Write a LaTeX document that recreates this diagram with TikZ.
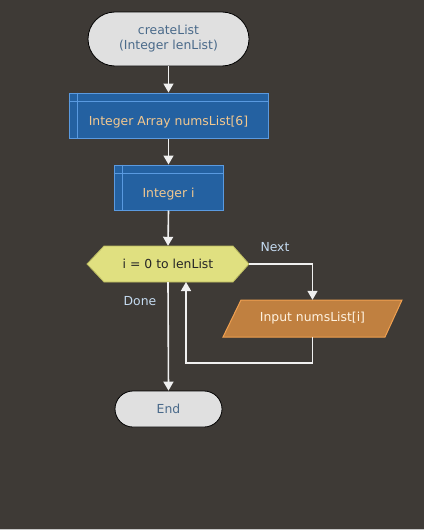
\documentclass[tikz,border=0pt]{standalone}
\usepackage{fontspec}
\setmainfont{DejaVu Sans}
\usetikzlibrary{arrows.meta,calc}
\definecolor{bgc}{HTML}{3E3A36}
\definecolor{edgec}{HTML}{C8C8C8}
\definecolor{termfill}{HTML}{E0E0E0}
\definecolor{termtext}{HTML}{4A6A8A}
\definecolor{declfill}{HTML}{2461A1}
\definecolor{declline}{HTML}{5A9AE0}
\definecolor{decltext}{HTML}{F2C890}
\definecolor{loopfill}{HTML}{E0E080}
\definecolor{loopline}{HTML}{B8B860}
\definecolor{inpfill}{HTML}{C08040}
\definecolor{inpline}{HTML}{F0A050}
\definecolor{inptext}{HTML}{FFF2E0}
\definecolor{connc}{HTML}{F0F0F0}
\definecolor{labc}{HTML}{C4DAF0}
\begin{document}
\begin{tikzpicture}[x=1pt,y=-1pt,
  every node/.style={font=\fontsize{12.4}{15}\selectfont},
  term/.style={draw=black, line width=0.8pt, fill=termfill, text=termtext, rounded corners=18pt, align=center, inner sep=0pt},
  declbox/.style={draw=declline, line width=1pt, fill=declfill, inner sep=0pt},
  declline/.style={draw=declline, line width=1pt},
  decltxt/.style={text=decltext, inner sep=0pt},
  plainnode/.style={inner sep=0pt},
  conn/.style={draw=connc, line width=1.6pt, -{Triangle[width=10pt,length=9pt]}},
  lab/.style={text=labc, inner sep=0pt}]
\useasboundingbox (0,0) rectangle (424,530);
\fill[bgc] (0,0) rectangle (424,530);
\fill[edgec] (0,529) rectangle (424,530);

% start terminal
\node[term, minimum width=161pt, minimum height=54pt, rounded corners=27pt] (start) at (168.5,39) {createList\\(Integer lenList)};

% array declaration
\node[declbox, minimum width=199pt, minimum height=45pt] (arr) at (168.5,115.5) {};
\draw[declline] ($(arr.north west)+(0,9)$) -- ($(arr.north east)+(0,9)$);
\draw[declline] ($(arr.north west)+(9,0)$) -- ($(arr.south west)+(9,0)$);
\node[decltxt] (arrtxt) at ($(arr.center)+(0,6.5)$) {Integer Array numsList[6]};

% integer declaration
\node[declbox, minimum width=109pt, minimum height=45pt] (inti) at (168.5,187.5) {};
\draw[declline] ($(inti.north west)+(0,9)$) -- ($(inti.north east)+(0,9)$);
\draw[declline] ($(inti.north west)+(9,0)$) -- ($(inti.south west)+(9,0)$);
\node[decltxt] (intitxt) at ($(inti.center)+(0,6.5)$) {Integer i};

% for loop hexagon
\filldraw[fill=loopfill, draw=loopline, line width=0.8pt] (87,264) -- (104,246) -- (233,246) -- (249,264) -- (233,282) -- (104,282) -- cycle;
\node[plainnode, minimum width=162pt, minimum height=36pt, text=black!85] (loop) at (168,264) {i = 0 to lenList};

% input parallelogram
\filldraw[fill=inpfill, draw=inpline, line width=1pt] (241,300) -- (402,300) -- (385,337) -- (223,337) -- cycle;
\node[plainnode, minimum width=179pt, minimum height=37pt, text=inptext] (inp) at (312.5,318.5) {Input numsList[i]};

% end terminal
\node[term, minimum width=107pt, minimum height=36pt] (end) at (168.5,409) {End};

% connectors
\coordinate (back) at (186,363);
\coordinate (backin) at (186,282);
\draw[conn] (start.south) -- (arr.north);
\draw[conn] (arr.south) -- (inti.north);
\draw[conn] (inti.south) -- (loop.north);
\draw[conn] (loop.east) -| (inp.north);
\draw[conn] (inp.south) |- (back) -- (backin);
\draw[conn] (loop.south) -- (end.north);

% labels
\node[lab] (next) at (275,247) {Next};
\node[lab] (done) at (140,301) {Done};
\end{tikzpicture}
\end{document}
